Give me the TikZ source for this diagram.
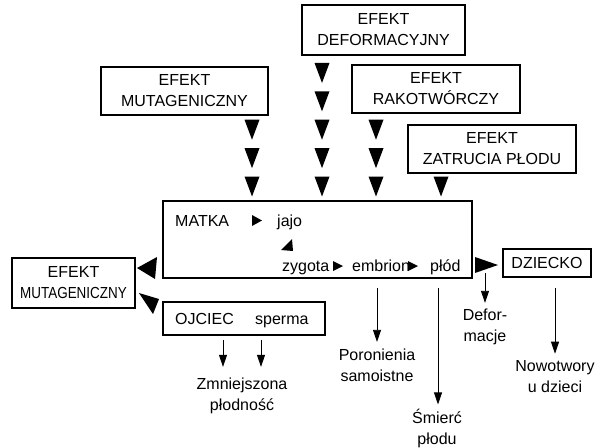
\documentclass[tikz,border=0pt]{standalone}
\usepackage{fontspec}
\setmainfont{Liberation Sans}
\usetikzlibrary{arrows.meta}

\tikzset{
  box/.style={draw, line width=1.3pt, align=center, inner sep=0pt},
  txt/.style={anchor=base west, inner sep=0pt},
  lbl/.style={align=center, inner sep=1pt},
  arr/.style={line width=0.8pt, -{Triangle[length=12pt,width=8pt]}},
}

\begin{document}
\begin{tikzpicture}[x=1pt, y=-1pt, font=\fontsize{16}{21}\selectfont]
\useasboundingbox (0,0) rectangle (596,447);

% effect boxes
\node[box, minimum width=163pt, minimum height=50pt] (deform) at (383.5,30) {EFEKT\\DEFORMACYJNY};
\node[box, minimum width=167pt, minimum height=48pt] (mutag) at (184.5,91) {EFEKT\\MUTAGENICZNY};
\node[box, minimum width=168pt, minimum height=48pt] (rakot) at (436,89) {EFEKT\\RAKOTW\'ORCZY};
\node[box, minimum width=168pt, minimum height=48pt] (zatruc) at (492,149) {EFEKT\\ZATRUCIA P\L ODU};
\node[box, minimum width=123pt, minimum height=50pt] (mutagL) at (73.5,283) {EFEKT\\\scalebox{0.84}[1]{MUTAGENICZNY}};

% main boxes
\node[box, minimum width=309pt, minimum height=77pt] (matka) at (317.5,239.5) {};
\node[box, minimum width=162pt, minimum height=33pt] (ojciec) at (244,318.5) {};
\node[box, minimum width=88pt, minimum height=28pt] (dziecko) at (547,263) {DZIECKO};

\node[txt] (matkaT) at (175,226) {MATKA};
\node[txt] (jajo) at (277,226) {jajo};
\node[txt] (zygota) at (282,271) {zygota};
\node[txt] (embrion) at (352,271) {embrion};
\node[txt] (plod) at (430,271) {płód};
\node[txt] (ojciecT) at (175,324) {OJCIEC};
\node[txt] (sperma) at (255,324) {sperma};

% falling triangles
\foreach \x/\n in {252/3, 322/5, 376/3, 441/1}
  \foreach \k in {1,...,\n}
    \fill ({\x-7.5},{204.9-28.4*\k}) -- ++(15,0) -- ++(-7.5,20) -- cycle;

% small triangles inside
\fill (252,215) -- (252,226) -- (262,220.5) -- cycle;
\fill (333,261) -- (333,271) -- (343,266) -- cycle;
\fill (408,261) -- (408,271) -- (418,266) -- cycle;
\fill (281,250) -- (292,239) -- (293,251) -- cycle;

% side triangles
\fill (475,257) -- (475,273) -- (498,265) -- cycle;
\fill (137,268) -- (157,257) -- (155,279) -- cycle;
\fill (139,293) -- (159,299) -- (153,314) -- cycle;

% results
\node[lbl] (zmn) at (242,396) {Zmniejszona\\płodność};
\node[lbl] (poron) at (377,365.5) {Poronienia\\samoistne};
\node[lbl] (smierc) at (437,428) {Śmierć\\płodu};
\node[lbl] (defor) at (485,327) {Defor-\\macje};
\node[lbl] (nowot) at (555,377) {Nowotwory\\u dzieci};

\coordinate (z1) at (223,340);
\coordinate (z2) at (261,340);
\coordinate (e1) at (377,288);
\coordinate (p1) at (438,288);
\coordinate (d1) at (485,273);
\coordinate (n1) at (555,288);

\draw[arr, shorten >=10pt] (z1) -- (z1 |- zmn.north);
\draw[arr, shorten >=10pt] (z2) -- (z2 |- zmn.north);
\draw[arr, shorten >=6pt] (e1) -- (e1 |- poron.north);
\draw[arr, shorten >=3pt] (p1) -- (p1 |- smierc.north);
\draw[arr, shorten >=5pt] (d1) -- (d1 |- defor.north);
\draw[arr, shorten >=6pt] (n1) -- (n1 |- nowot.north);
\end{tikzpicture}
\end{document}
